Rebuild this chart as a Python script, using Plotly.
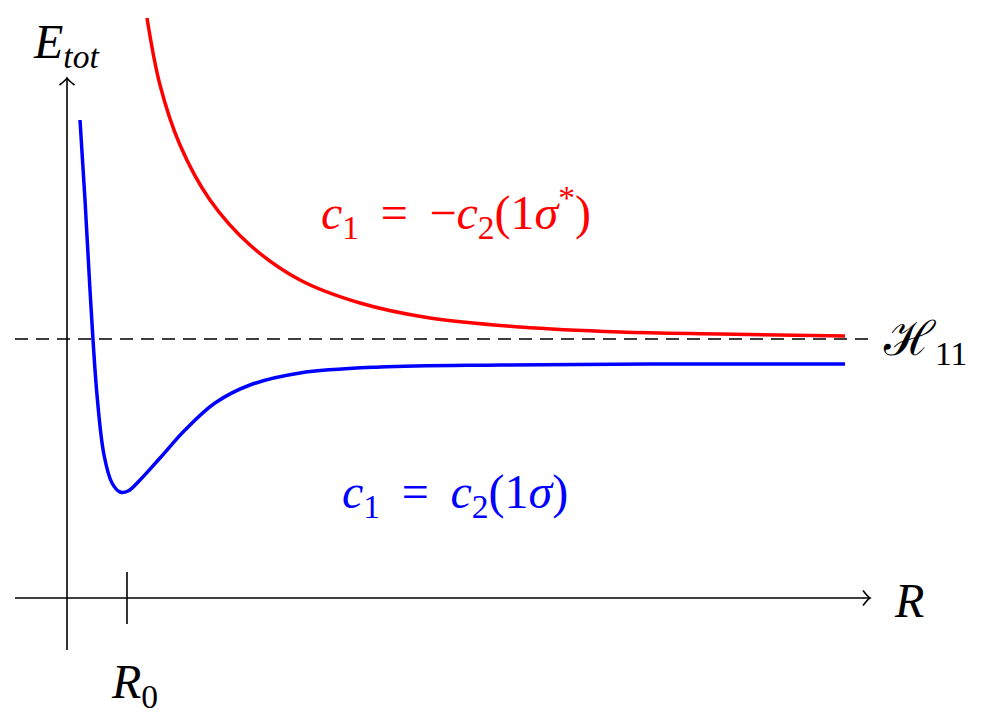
import plotly.graph_objects as go

# Data (arbitrary units; origin at axis crossing)
blue_R = [0.13, 0.18, 0.23, 0.30, 0.37, 0.45, 0.53, 0.61, 0.73, 0.93, 1.18, 1.48, 1.83, 2.33, 3.13, 4.33, 5.83, 7.78]
blue_E = [4.78, 3.98, 3.08, 2.03, 1.43, 1.15, 1.06, 1.07, 1.18, 1.40, 1.68, 1.95, 2.13, 2.25, 2.31, 2.33, 2.34, 2.34]
red_R = [0.80, 0.93, 1.13, 1.43, 1.83, 2.33, 2.93, 3.63, 4.53, 5.53, 6.53, 7.78]
red_E = [5.80, 5.13, 4.53, 3.98, 3.53, 3.18, 2.95, 2.80, 2.71, 2.66, 2.64, 2.62]
H11 = 2.59
R0 = 0.60
x_axis_range = [-0.52, 8.03]
y_axis_range = [-0.52, 5.20]

FONT = "Liberation Serif"
FS = 48

fig = go.Figure()
fig.add_trace(go.Scatter(x=red_R, y=red_E, mode="lines", line=dict(color="#ff0000", width=3.5, shape="spline"), hoverinfo="skip"))
fig.add_trace(go.Scatter(x=blue_R, y=blue_E, mode="lines", line=dict(color="#0000ff", width=3.5, shape="spline"), hoverinfo="skip"))

shapes = []
shapes.append(dict(type="line", x0=x_axis_range[0], x1=x_axis_range[1], y0=0, y1=0, line=dict(color="black", width=1.6)))
shapes.append(dict(type="line", x0=0, x1=0, y0=y_axis_range[0], y1=y_axis_range[1], line=dict(color="black", width=1.6)))
xa, ya = x_axis_range[1], y_axis_range[1]
shapes.append(dict(type="path", path=f"M {xa-0.07} 0.075 Q {xa-0.02} 0.01 {xa} 0 Q {xa-0.02} -0.01 {xa-0.07} -0.075", line=dict(color="black", width=1.6)))
shapes.append(dict(type="path", path=f"M -0.075 {ya-0.07} Q -0.01 {ya-0.02} 0 {ya} Q 0.01 {ya-0.02} 0.075 {ya-0.07}", line=dict(color="black", width=1.6)))
shapes.append(dict(type="line", x0=R0, x1=R0, y0=-0.26, y1=0.26, line=dict(color="black", width=1.6)))
shapes.append(dict(type="line", x0=x_axis_range[0], x1=8.06, y0=H11, y1=H11, line=dict(color="black", width=1.6, dash="13px,8px")))
fig.update_layout(shapes=shapes)

sp = "\u2009"
ann = [
    dict(x=-0.01, y=5.53, text="<i>E</i><sub><i>tot</i></sub>"),
    dict(x=8.42, y=-0.02, text="<i>R</i>"),
    dict(x=R0 + 0.07, y=-0.87, text="<i>R</i><sub>0</sub>"),
    dict(x=8.58, y=2.56, text="ℋ<sub>11</sub>"),
    dict(x=3.89, y=3.86, text=f"<i>c</i><sub>1</sub>{sp} = {sp}−<i>c</i><sub>2</sub>(1<i>σ</i><sup>*</sup>)", color="#ff0000"),
    dict(x=3.88, y=1.03, text=f"<i>c</i><sub>1</sub>{sp} = {sp}<i>c</i><sub>2</sub>(1<i>σ</i>)", color="#0000ff"),
]
out = []
for a in ann:
    col = a.pop("color", "black")
    a.update(showarrow=False, xanchor="center", yanchor="middle",
             font=dict(family=FONT, size=FS, color=col))
    out.append(a)
fig.update_layout(annotations=out)

fig.update_layout(
    width=987, height=728,
    margin=dict(l=0, r=0, t=0, b=0),
    paper_bgcolor="white", plot_bgcolor="white",
    showlegend=False,
    xaxis=dict(range=[-0.59, 9.28], visible=False, fixedrange=True),
    yaxis=dict(range=[-1.38, 5.90], visible=False, fixedrange=True),
)
fig.write_html("out.html")
